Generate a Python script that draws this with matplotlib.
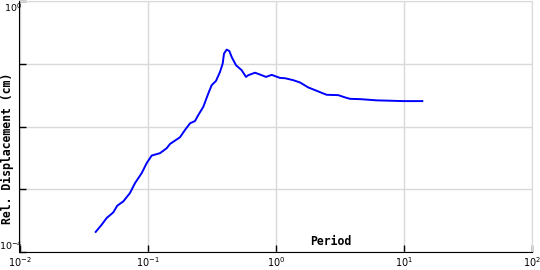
import matplotlib
matplotlib.use("Agg")
import matplotlib.pyplot as plt

# period (s) and relative displacement (cm)
period = [0.0393, 0.0438, 0.0479, 0.0539, 0.0579, 0.0645, 0.0727, 0.0796,
          0.0898, 0.0982, 0.1074, 0.1247, 0.1407, 0.1493, 0.1786, 0.1954,
          0.2138, 0.2339, 0.2481, 0.2715, 0.2971, 0.3156, 0.3410, 0.3664,
          0.3846, 0.3937, 0.4133, 0.4331, 0.4519, 0.4884, 0.5410, 0.5845,
          0.6091, 0.6871, 0.7747, 0.8372, 0.9273, 1.076, 1.178, 1.367,
          1.542, 1.789, 2.018, 2.277, 2.490, 3.067, 3.459, 3.784, 4.529,
          6.114, 9.858, 13.87]
disp = [2.09e-4, 2.73e-4, 3.49e-4, 4.28e-4, 5.47e-4, 6.40e-4, 8.70e-4, 1.25e-3,
        1.81e-3, 2.61e-3, 3.44e-3, 3.76e-3, 4.51e-3, 5.27e-3, 6.74e-3, 8.80e-3,
        0.01124, 0.01223, 0.01523, 0.0206, 0.0337, 0.0456, 0.0533, 0.0741,
        0.1008, 0.1452, 0.168, 0.1597, 0.1282, 0.0947, 0.0788, 0.0617,
        0.0657, 0.0720, 0.0657, 0.0617, 0.0665, 0.0595, 0.0588, 0.0547,
        0.0503, 0.0419, 0.0380, 0.0344, 0.0320, 0.0316, 0.0291, 0.0276, 0.0273,
        0.0261, 0.0254, 0.0254]

xticks = [1e-2, 1e-1, 1e0, 1e1, 1e2]
xlabels = ["$10^{-2}$", "$10^{-1}$", "$10^{0}$", "$10^{1}$", "$10^{2}$"]
yticks = [1e-4, 1e-3, 1e-2, 1e-1, 1e0]
ylabels = ["$10^{-4}$", "", "", "", "$10^{0}$"]

fig = plt.figure(figsize=(5.4, 2.7), dpi=100)
ax = fig.add_axes([19.5 / 540, 18 / 270, 512.8 / 540, 251 / 270])

ax.plot(period, disp, color="#0000ff", linewidth=1.4)
ax.set_xscale("log")
ax.set_yscale("log")
ax.set_xlim(1e-2, 1e2)
ax.set_ylim(1e-4, 1e0)

ax.set_xticks(xticks)
ax.set_xticklabels(xlabels)
ax.set_yticks(yticks)
ax.set_yticklabels(ylabels)
ax.minorticks_off()
ax.tick_params(direction="in", length=5, width=1, labelsize=7)
ax.tick_params(axis="x", pad=2)
ax.tick_params(axis="y", pad=-2, labelsize=6.8)

# nudge the end labels so they stay on the canvas
ylab = ax.get_yticklabels()
ylab[0].set_va("bottom")
ylab[-1].set_va("top")

ax.grid(True, color="#d9d9d9", linewidth=1)
ax.set_axisbelow(True)
for s in ["top", "right"]:
    ax.spines[s].set_color("#d9d9d9")
for s in ["left", "bottom"]:
    ax.spines[s].set_color("black")

mono = dict(family="DejaVu Sans Mono", weight="bold", size=8.3)
ax.text(0.606, 0.04, "Period", transform=ax.transAxes, ha="center", va="center", **mono)
ax.text(-0.023, 0.413, "Rel. Displacement (cm)", transform=ax.transAxes,
        ha="center", va="center", rotation=90, clip_on=False, **mono)

fig.savefig("out.png", dpi=100)
